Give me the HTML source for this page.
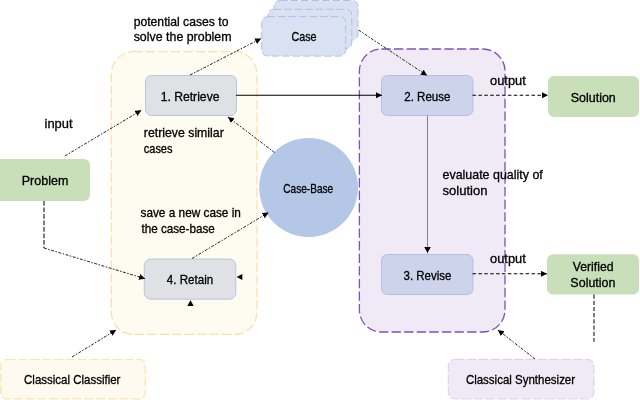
<!DOCTYPE html>
<html><head><meta charset="utf-8">
<style>
html,body{margin:0;padding:0;background:#fff;width:640px;height:400px;overflow:hidden}
svg{display:block;will-change:transform}
text{font-family:"Liberation Sans",sans-serif;fill:#000;stroke:#000;stroke-width:0.3px}
.lb{font-size:12.5px}
.bx{font-size:12.5px}
</style></head>
<body>
<svg width="640" height="400" viewBox="0 0 640 400">
<defs>
<marker id="ah" markerWidth="7" markerHeight="7" refX="6.3" refY="3.1" orient="auto" markerUnits="userSpaceOnUse">
<path d="M0,0 L6.3,3.1 L0,6.2 Z" fill="#000"/>
</marker>
<marker id="ah3" markerWidth="7" markerHeight="7" refX="6" refY="3" orient="auto" markerUnits="userSpaceOnUse">
<path d="M0,0 L6.2,3 L0,6 Z" fill="#000"/>
</marker>
<marker id="ah2" markerWidth="7" markerHeight="7" refX="6.5" refY="3.25" orient="auto" markerUnits="userSpaceOnUse">
<path d="M0,0 L6,3.25 L0,6.5 Z" fill="#000"/>
</marker>
</defs>

<!-- regions -->
<rect x="111.3" y="51.7" width="145.6" height="282.7" rx="22" fill="#fefbf1" stroke="#fbe0a0" stroke-width="1.2" stroke-dasharray="9.2 3.3"/>
<rect x="359.4" y="49" width="145.6" height="283" rx="22" fill="#efeaf6" stroke="#7d52b8" stroke-width="1.3" stroke-dasharray="9.3 3.3"/>

<!-- case stack -->
<rect x="274" y="0.5" width="84" height="39.5" rx="6" fill="#d9e1f2" stroke="#b3c1df" stroke-width="1" stroke-dasharray="7.5 3"/>
<rect x="267.8" y="9.3" width="84" height="39.5" rx="6" fill="#d9e1f2" stroke="#b3c1df" stroke-width="1" stroke-dasharray="7.5 3"/>
<rect x="261.7" y="16.6" width="84" height="39.5" rx="6" fill="#d9e1f2" stroke="#b3c1df" stroke-width="1" stroke-dasharray="7.5 3"/>

<!-- boxes -->
<rect x="-6" y="159" width="96" height="42" rx="6" fill="#c9dfb9"/>

<rect x="145.5" y="75.5" width="91" height="40" rx="6" fill="#e0e1e5" stroke="#b9c4e3" stroke-width="1"/>

<rect x="144.3" y="259" width="91.5" height="40.2" rx="6.5" fill="#e0e1e5" stroke="#b9c4e3" stroke-width="1"/>

<rect x="381.5" y="75.5" width="91.5" height="40" rx="6" fill="#ccd3ea" stroke="#b3bfe3" stroke-width="1"/>

<rect x="381.5" y="254.5" width="91.5" height="40" rx="6" fill="#ccd3ea" stroke="#b3bfe3" stroke-width="1"/>

<rect x="548" y="76" width="91" height="41" rx="6" fill="#c9dfb9"/>

<rect x="547" y="254.2" width="92" height="40.3" rx="6" fill="#c9dfb9"/>

<circle cx="308.6" cy="187.5" r="49.4" fill="#b4c7e7"/>

<rect x="0.7" y="359.5" width="144.6" height="39.3" rx="6" fill="#fefaf0" stroke="#fce5b0" stroke-width="1.2" stroke-dasharray="9 2.8"/>

<rect x="448.3" y="359.3" width="145.7" height="39.7" rx="7" fill="#efeaf6" stroke="#ddd4ec" stroke-width="1.2" stroke-dasharray="9 2.8"/>

<!-- arrows -->
<g fill="none" stroke="#111">
<line x1="236" y1="95.3" x2="382" y2="95.3" stroke="#000" stroke-width="1.1" marker-end="url(#ah)"/>
<line x1="472.5" y1="95.2" x2="548" y2="95.2" stroke="#000" stroke-width="1.1" stroke-dasharray="3.5 2.4" marker-end="url(#ah)"/>
<line x1="427.5" y1="115.5" x2="427.5" y2="253.5" stroke="#777" stroke-width="0.9" marker-end="url(#ah2)"/>
<line x1="472.5" y1="273.8" x2="547" y2="273.8" stroke="#000" stroke-width="1.1" stroke-dasharray="3.5 2.4" marker-end="url(#ah)"/>
<line x1="594" y1="294.5" x2="594" y2="341.7" stroke="#4a4a4a" stroke-width="1.4" stroke-dasharray="4.2 2"/>
<line x1="44" y1="201" x2="44" y2="248" stroke="#4a4a4a" stroke-width="1.4" stroke-dasharray="4.8 1.7"/>
</g>
<g fill="none" stroke="#222" stroke-width="1" stroke-dasharray="3 1.5 1.5 1.5">
<line x1="64.9" y1="155.9" x2="141.2" y2="110.4" marker-end="url(#ah3)"/>
<polyline points="44,248 145,278.7" marker-end="url(#ah3)"/>
<line x1="190" y1="75" x2="261" y2="38.5" marker-end="url(#ah3)"/>
<line x1="358.5" y1="30" x2="427" y2="75.5" marker-end="url(#ah3)"/>
<line x1="274.5" y1="152.5" x2="228" y2="117" marker-end="url(#ah3)"/>
<line x1="192" y1="258.5" x2="268.4" y2="212.6" marker-end="url(#ah3)"/>
<line x1="72" y1="357" x2="116" y2="330" marker-end="url(#ah3)"/>
<line x1="535" y1="359" x2="498" y2="330" marker-end="url(#ah3)"/>
</g>
<path d="M242.3,274 L236.6,277 L242.3,280 Z" fill="#000"/>
<path d="M187.3,306 L190.5,300.3 L193.7,306 Z" fill="#000"/>

<!-- labels -->
<text id="t1" x="133.68" y="25.80" style="font-size:12.2px" textLength="94.74" lengthAdjust="spacingAndGlyphs">potential cases to</text>
<text id="t2" x="133.68" y="41.00" style="font-size:12.2px" textLength="97.82" lengthAdjust="spacingAndGlyphs">solve the problem</text>
<text id="t3" x="291.54" y="40.60" style="font-size:12.2px" textLength="24.94" lengthAdjust="spacingAndGlyphs">Case</text>
<text id="t4" x="160.66" y="100.60" style="font-size:12.2px" textLength="58.84" lengthAdjust="spacingAndGlyphs">1. Retrieve</text>
<text id="t5" x="44.52" y="128.00" style="font-size:12.2px" textLength="28.00" lengthAdjust="spacingAndGlyphs">input</text>
<text id="t6" x="143.80" y="136.70" style="font-size:12.2px" textLength="79.97" lengthAdjust="spacingAndGlyphs">retrieve similar</text>
<text id="t7" x="143.77" y="152.70" style="font-size:12.2px" textLength="28.72" lengthAdjust="spacingAndGlyphs">cases</text>
<text id="t8" x="21.73" y="184.90" style="font-size:12.2px" textLength="46.60" lengthAdjust="spacingAndGlyphs">Problem</text>
<text id="t9" x="283.24" y="192.50" style="font-size:12.2px" textLength="49.98" lengthAdjust="spacingAndGlyphs">Case-Base</text>
<text id="t10" x="140.50" y="217.00" style="font-size:12.2px" textLength="100.41" lengthAdjust="spacingAndGlyphs">save a new case in</text>
<text id="t11" x="141.49" y="232.50" style="font-size:12.2px" textLength="73.31" lengthAdjust="spacingAndGlyphs">the case-base</text>
<text id="t12" x="166.73" y="284.40" style="font-size:12.2px" textLength="46.47" lengthAdjust="spacingAndGlyphs">4. Retain</text>
<text id="t13" x="404.22" y="100.60" style="font-size:12.2px" textLength="46.28" lengthAdjust="spacingAndGlyphs">2. Reuse</text>
<text id="t14" x="403.50" y="279.75" style="font-size:12.2px" textLength="48.00" lengthAdjust="spacingAndGlyphs">3. Revise</text>
<text id="t15" x="490.07" y="85.00" style="font-size:12.2px" textLength="35.78" lengthAdjust="spacingAndGlyphs">output</text>
<text id="t16" x="490.07" y="262.65" style="font-size:12.2px" textLength="35.78" lengthAdjust="spacingAndGlyphs">output</text>
<text id="t17" x="570.77" y="101.60" style="font-size:12.2px" textLength="44.97" lengthAdjust="spacingAndGlyphs">Solution</text>
<text id="t18" x="572.72" y="270.50" style="font-size:12.2px" textLength="40.77" lengthAdjust="spacingAndGlyphs">Verified</text>
<text id="t19" x="570.38" y="286.50" style="font-size:12.2px" textLength="45.07" lengthAdjust="spacingAndGlyphs">Solution</text>
<text id="t20" x="442.50" y="178.75" style="font-size:12.2px" textLength="100.26" lengthAdjust="spacingAndGlyphs">evaluate quality of</text>
<text id="t21" x="442.50" y="195.00" style="font-size:12.2px" textLength="45.00" lengthAdjust="spacingAndGlyphs">solution</text>
<text id="t22" x="24.08" y="383.70" style="font-size:12.2px" textLength="96.33" lengthAdjust="spacingAndGlyphs">Classical Classifier</text>
<text id="t23" x="465.89" y="383.70" style="font-size:12.2px" textLength="109.22" lengthAdjust="spacingAndGlyphs">Classical Synthesizer</text>
</svg>
</body></html>
